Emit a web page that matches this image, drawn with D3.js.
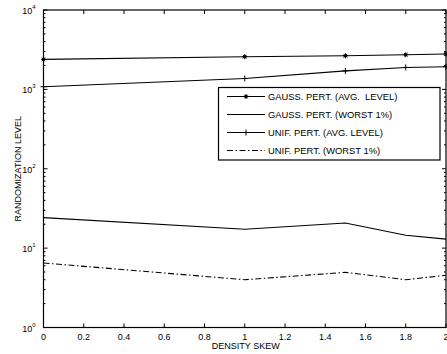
<!DOCTYPE html>
<html>
<head>
<meta charset="utf-8">
<script src="https://cdn.jsdelivr.net/npm/d3@7"></script>
<style>
  body { margin: 0; background: #fff; }
  svg { display: block; font-family: "Liberation Sans", Arial, sans-serif; }
  text { white-space: pre; }
</style>
</head>
<body>
<svg id="chart" width="447" height="354"></svg>
<script>
// data
var skew = [0, 1, 1.5, 1.8, 2];
var gaussAvg = [2390, 2580, 2650, 2730, 2790];
var gaussWorst = [24.2, 17.3, 20.7, 14.5, 13.0];
var unifAvg = [1080, 1370, 1710, 1890, 1930];
var unifWorst = [6.5, 4.0, 4.95, 4.0, 4.55];
var xTicks = [0, 0.2, 0.4, 0.6, 0.8, 1, 1.2, 1.4, 1.6, 1.8, 2];
var yDecades = [0, 1, 2, 3, 4];
var seriesNames = ["GAUSS. PERT. (AVG.  LEVEL)", "GAUSS. PERT. (WORST 1%)",
                   "UNIF. PERT. (AVG. LEVEL)", "UNIF. PERT. (WORST 1%)"];

var svg = d3.select("#chart");
var pLeft = 43.5, pRight = 446, pTop = 10, pBottom = 327.5;

var x = d3.scaleLinear().domain([0, 2]).range([pLeft, pRight]);
var y = d3.scaleLog().domain([1, 10000]).range([pBottom, pTop]);

// frame
svg.append("rect")
  .attr("x", pLeft).attr("y", pTop)
  .attr("width", pRight - pLeft).attr("height", pBottom - pTop)
  .attr("fill", "none").attr("stroke", "#000").attr("stroke-width", 1.2);

// x ticks (inward, bottom and top)
var xg = svg.append("g");
xTicks.forEach(function(t) {
  xg.append("line").attr("x1", x(t)).attr("x2", x(t))
    .attr("y1", pBottom).attr("y2", pBottom - 4).attr("stroke", "#000");
  xg.append("line").attr("x1", x(t)).attr("x2", x(t))
    .attr("y1", pTop).attr("y2", pTop + 4).attr("stroke", "#000");
  xg.append("text").attr("x", x(t)).attr("y", pBottom + 12)
    .attr("text-anchor", "middle").attr("font-size", "9px")
    .attr("fill", "#000").text(t);
});

// y ticks: major + minor, left and right
var yg = svg.append("g");
yDecades.forEach(function(p) {
  var v = Math.pow(10, p);
  yg.append("line").attr("x1", pLeft).attr("x2", pLeft + 4)
    .attr("y1", y(v)).attr("y2", y(v)).attr("stroke", "#000");
  yg.append("line").attr("x1", pRight).attr("x2", pRight - 4)
    .attr("y1", y(v)).attr("y2", y(v)).attr("stroke", "#000");
  var lab = yg.append("text").attr("x", pLeft - 8).attr("y", y(v) + 4)
    .attr("text-anchor", "end").attr("font-size", "9px").attr("fill", "#000");
  lab.append("tspan").text("10");
  lab.append("tspan").attr("dy", -5).attr("font-size", "6px").text(p);
  if (p < 4) {
    for (var m = 2; m <= 9; m++) {
      var mv = m * v;
      yg.append("line").attr("x1", pLeft).attr("x2", pLeft + 2)
        .attr("y1", y(mv)).attr("y2", y(mv)).attr("stroke", "#000");
      yg.append("line").attr("x1", pRight).attr("x2", pRight - 2)
        .attr("y1", y(mv)).attr("y2", y(mv)).attr("stroke", "#000");
    }
  }
});

// axis titles
svg.append("text").attr("x", (pLeft + pRight) / 2 + 1).attr("y", 349)
  .attr("text-anchor", "middle").attr("font-size", "9px").text("DENSITY SKEW");
svg.append("text")
  .attr("transform", "translate(21," + ((pTop + pBottom) / 2) + ") rotate(-90)")
  .attr("text-anchor", "middle").attr("font-size", "9px").text("RANDOMIZATION LEVEL");

var line = d3.line().x(function(d) { return x(d[0]); }).y(function(d) { return y(d[1]); });
function pairs(vals) { return skew.map(function(s, i) { return [s, vals[i]]; }); }

var plot = svg.append("g");
function drawSeries(vals, dash) {
  plot.append("path").datum(pairs(vals)).attr("d", line)
    .attr("fill", "none").attr("stroke", "#000").attr("stroke-width", 1.1)
    .attr("stroke-dasharray", dash || null);
}
function star(g, cx, cy) {
  var r = 2.5;
  [0, 45, 90, 135].forEach(function(a) {
    var dx = r * Math.cos(a * Math.PI / 180), dy = r * Math.sin(a * Math.PI / 180);
    g.append("line").attr("x1", cx - dx).attr("x2", cx + dx)
      .attr("y1", cy - dy).attr("y2", cy + dy).attr("stroke", "#000").attr("stroke-width", 1);
  });
  g.append("circle").attr("cx", cx).attr("cy", cy).attr("r", 1.6).attr("fill", "#000");
}
function plus(g, cx, cy) {
  var r = 3;
  g.append("line").attr("x1", cx - r).attr("x2", cx + r).attr("y1", cy).attr("y2", cy)
    .attr("stroke", "#000");
  g.append("line").attr("x1", cx).attr("x2", cx).attr("y1", cy - r).attr("y2", cy + r)
    .attr("stroke", "#000");
}

drawSeries(gaussAvg);
drawSeries(gaussWorst);
drawSeries(unifAvg);
drawSeries(unifWorst, "6,2.5,1.5,2.5");
pairs(gaussAvg).forEach(function(d) { star(plot, x(d[0]), y(d[1])); });
pairs(unifAvg).forEach(function(d) { plus(plot, x(d[0]), y(d[1])); });

// legend
var lg = svg.append("g");
lg.append("rect").attr("x", 218.5).attr("y", 87.5).attr("width", 221.5).attr("height", 72.5)
  .attr("fill", "#fff").attr("stroke", "#000").attr("stroke-width", 1.2);
var rowY = [96.5, 114.5, 132.5, 150.5];
var dashes = [null, null, null, "6,2.5,1.5,2.5"];
seriesNames.forEach(function(name, i) {
  lg.append("line").attr("x1", 227).attr("x2", 265).attr("y1", rowY[i]).attr("y2", rowY[i])
    .attr("stroke", "#000").attr("stroke-width", 1.1).attr("stroke-dasharray", dashes[i]);
  if (i === 0) star(lg, 246, rowY[i]);
  if (i === 2) plus(lg, 246, rowY[i]);
  lg.append("text").attr("x", 268).attr("y", rowY[i] + 3.5)
    .attr("font-size", "9.4px").attr("fill", "#000").text(name);
});
</script>
</body>
</html>
